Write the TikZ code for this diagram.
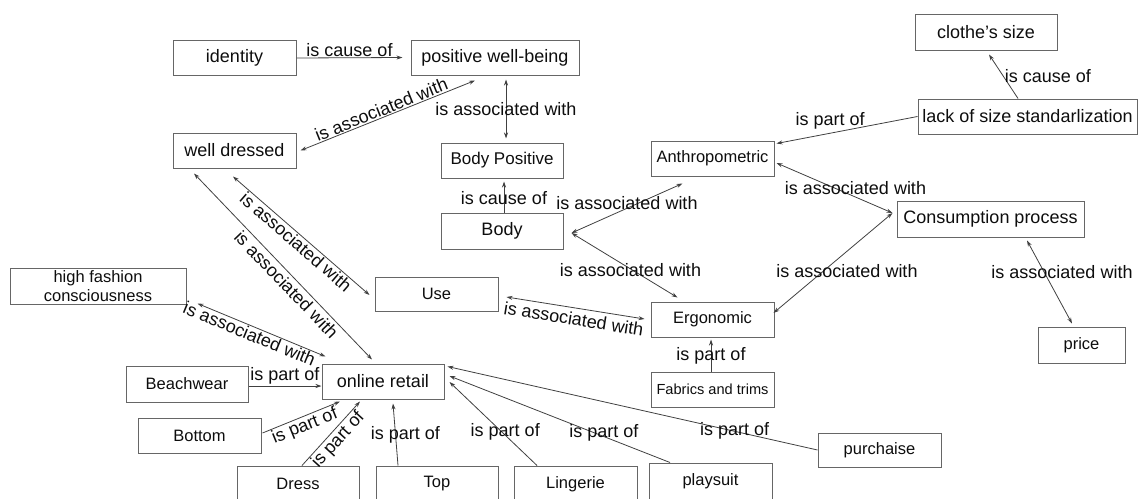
\documentclass[tikz,border=0pt]{standalone}
\usepackage{fontspec}
\setmainfont{Liberation Sans}
\usetikzlibrary{arrows.meta,calc}

\tikzset{
  concept/.style={draw=black!60, line width=1pt, minimum height=35pt, inner sep=0pt,
    text=black!95, font=\fontsize{18}{20}\selectfont},
  minor/.style={concept, font=\fontsize{16.5}{19}\selectfont},
  link/.style={draw=black!75, line width=0.8pt, -{Stealth[length=6pt,width=4pt]}},
  twolink/.style={link, {Stealth[length=6pt,width=4pt]}-{Stealth[length=6pt,width=4pt]}},
  lbl/.style={font=\fontsize{18}{20}\selectfont, inner sep=1pt, text=black!95}
}

\begin{document}
\begin{tikzpicture}[x=1pt,y=-1pt]
      \useasboundingbox (0,0) rectangle (1139,498);

      % concepts
      \node [concept, minimum width=123pt] (identity) at (234.5,58) {identity};
      \node [concept, minimum width=168pt] (pwb) at (495,57.5) {positive well-being};
      \node [concept, minimum width=123pt] (wd) at (234.5,150.5) {well dressed};
      \node [concept, minimum width=122pt, font=\fontsize{17}{20}\selectfont] (bodypos) at (502,160.5) {Body Positive};
      \node [concept, minimum width=142pt, minimum height=36pt] (clothe) at (986,32) {clothe's size};
      \node [concept, minimum width=219pt] (lack) at (1027.5,116.5) {lack of size standarlization};
      \node [minor, minimum width=123pt] (anthro) at (712.5,158.5) {Anthropometric};
      \node [concept, minimum width=187pt, minimum height=36pt] (consume) at (990.5,219) {Consumption process};
      \node [concept, minimum width=122pt, minimum height=36pt] (body) at (502,231) {Body};
      \node [minor, minimum width=123pt, minimum height=34pt] (use) at (436.5,294) {Use};
      \node [minor, minimum width=176pt, minimum height=36pt, align=center] (fashion) at (98,286) {high fashion\\consciousness};
      \node [minor, minimum width=123pt] (ergo) at (712.5,319.5) {Ergonomic};
      \node [concept, minimum width=123pt, font=\fontsize{14.6}{17}\selectfont] (fabric) at (712.5,389.5) {Fabrics and trims};
      \node [minor, minimum width=87pt, minimum height=36pt] (price) at (1081.5,345) {price};
      \node [concept, minimum width=122pt] (retail) at (383,381.5) {online retail};
      \node [minor, minimum width=122pt, minimum height=36pt] (beach) at (187,384) {Beachwear};
      \node [minor, minimum width=123pt] (bottom) at (199.5,435.5) {Bottom};
      \node [minor, minimum width=123pt, minimum height=34pt] (purchase) at (879.5,450) {purchaise};
      \node [minor, minimum width=122pt, minimum height=36pt] (dress) at (298,484) {Dress};
      \node [minor, minimum width=122pt, minimum height=36pt] (top) at (437,484) {Top};
      \node [minor, minimum width=123pt, minimum height=36pt] (lingerie) at (575.5,484) {Lingerie};
      \node [minor, minimum width=123pt, minimum height=36pt] (playsuit) at (710.5,481) {playsuit};

      % relations
      \draw [link] (identity.east) -- ($(pwb.west)+(-8,0)$) node [lbl, midway, above] {is cause of};
      \draw [twolink] ($(wd.east)+(4,0)$) -- ($(pwb.south)+(-20,5)$) node [lbl, pos=0.48, sloped, above] {is associated with};
      \draw [twolink] ($(pwb.south)+(11,4)$) -- ($(bodypos.north)+(4,-4)$) node [lbl, midway] {is associated with};
      \draw [link] ($(body.north)+(2,0)$) -- ($(bodypos.south)+(2,3)$) node [lbl, midway, yshift=-1pt] {is cause of};

      \coordinate (bodyjoin) at ($(body.east)+(8,2)$);
      \draw [twolink] (bodyjoin) -- ($(anthro.south)+(-30,7)$) node [lbl, midway, yshift=5pt] {is associated with};
      \draw [twolink] (bodyjoin) -- ($(ergo.north)+(-35,-4)$) node [lbl, midway, xshift=6pt, yshift=-5pt] {is associated with};

      \draw [link] (lack.west) -- ($(anthro.north east)+(2,3)$) node [lbl, pos=0.62, above=3pt] {is part of};
      \draw [link] ($(lack.north)+(-9.5,0)$) -- ($(clothe.south)+(3,4)$) node [lbl, midway, right] {is cause of};
      \draw [twolink] ($(anthro.east)+(2,4.5)$) -- ($(consume.west)+(-4,-6)$) node [lbl, midway, xshift=21pt] {is associated with};
      \draw [twolink] ($(ergo.east)+(-1,-6.5)$) -- ($(consume.west)+(-4,-6)$) node [lbl, midway, xshift=14pt, yshift=-8pt] {is associated with};
      \draw [twolink] ($(consume.south)+(36.5,3)$) -- ($(price.north)+(-9.5,-3)$) node [lbl, midway, xshift=12.5pt, yshift=10pt] {is associated with};
      \draw [link] ($(fabric.north)+(-1.5,0)$) -- ($(ergo.south)+(-1.5,2)$) node [lbl, midway] {is part of};
      \draw [twolink] ($(use.east)+(8,3)$) -- ($(ergo.west)+(-6,-0.5)$) node [lbl, midway, sloped, below=3pt] {is associated with};

      \draw [twolink] ($(wd.south)+(-1.5,8)$) -- ($(use.west)+(-5,1)$) node [lbl, midway, sloped, below] {is associated with};
      \draw [twolink] ($(wd.south)+(-40.5,5)$) -- ($(retail.north)+(-11,-4)$) node [lbl, pos=0.56, sloped, below=2pt] {is associated with};
      \draw [twolink] ($(fashion.south east)+(11,-1)$) -- ($(retail.north west)+(4,-7)$) node [lbl, pos=0.43, sloped, below] {is associated with};

      \draw [link] ($(beach.east)+(0,2)$) -- ($(retail.west)+(0,4.5)$) node [lbl, midway, above] {is part of};
      \draw [link] ($(bottom.east)+(1,-2.5)$) -- ($(retail.south)+(-43,2)$) node [lbl, midway, sloped, below] {is part of};
      \draw [link] ($(dress.north)+(4,0)$) -- ($(retail.south)+(-23,2)$) node [lbl, midway, sloped, below] {is part of};
      \draw [link] ($(top.north)+(-39,0)$) -- ($(retail.south)+(10,4)$) node [lbl, midway, xshift=10pt] {is part of};
      \draw [link] ($(lingerie.north)+(-38.5,0)$) -- ($(retail.east)+(5,0.5)$) node [lbl, midway, xshift=12pt, yshift=-8pt] {is part of};
      \draw [link] ($(playsuit.north)+(-40.5,0)$) -- ($(retail.east)+(5,-5.5)$) node [lbl, pos=0.3, yshift=4pt] {is part of};
      \draw [link] (purchase.west) -- ($(retail.north east)+(3,3)$) node [lbl, pos=0.224] {is part of};
\end{tikzpicture}
\end{document}
